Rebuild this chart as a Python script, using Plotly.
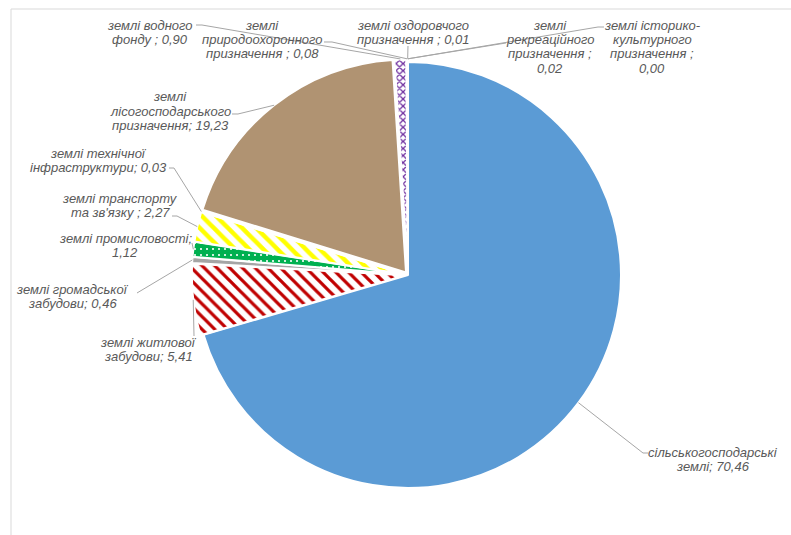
import numpy as np
import plotly.graph_objects as go

# ---------------- data ----------------
categories = [
    "сільськогосподарські землі",
    "землі житлової забудови",
    "землі громадської забудови",
    "землі промисловості",
    "землі транспорту та зв'язку",
    "землі технічної інфраструктури",
    "землі лісогосподарського призначення",
    "землі водного фонду",
    "землі природоохоронного призначення",
    "землі оздоровчого призначення",
    "землі рекреаційного призначення",
    "землі історико-культурного призначення",
]
values = [70.46, 5.41, 0.46, 1.12, 2.27, 0.03, 19.23, 0.90, 0.08, 0.01, 0.02, 0.00]

# how each data label is broken into lines ({v} = value)
label_lines = [
    ["сільськогосподарські", "землі; {v}"],
    ["землі житлової", "забудови; {v}"],
    ["землі громадської", "забудови; {v}"],
    ["землі промисловості;", "{v}"],
    ["землі транспорту", "та зв'язку ; {v}"],
    ["землі технічної", "інфраструктури; {v}"],
    ["землі", "лісогосподарського", "призначення; {v}"],
    ["землі водного", "фонду ; {v}"],
    ["землі", "природоохоронного", "призначення ; {v}"],
    ["землі оздоровчого", "призначення ; {v}"],
    ["землі", "рекреаційного", "призначення ;", "{v}"],
    ["землі історико-", "культурного", "призначення ;", "{v}"],
]

# ---------------- layout / style ----------------
W, H = 791, 535
CX, CY, R = 408, 275, 213
pulls = [0] + [0.015] * 11
max_pull = max(pulls)

colors = ["#5b9bd5", "#ffffff", "#a5a5a5", "#00b050", "#ffffff", "#4472c4",
          "#b09372", "#ffffff", "#70ad47", "#7030a0", "#ed7d31", "#ffc000"]
pat_shape = ["", "\\", "", ".", "\\", "", "", "x", "", "", "", ""]
pat_fg = ["#5b9bd5", "#c00000", "#a5a5a5", "#ffffff", "#ffff00", "#4472c4",
          "#b09372", "#7030a0", "#70ad47", "#7030a0", "#ed7d31", "#ffc000"]
pat_bg = ["#5b9bd5", "#ffffff", "#a5a5a5", "#00b050", "#ffffff", "#4472c4",
          "#b09372", "#ffffff", "#70ad47", "#7030a0", "#ed7d31", "#ffc000"]

# label placement (pixels): center x, first-line center y, leader start points
label_pos = [
    (713, 452), (148, 342), (72, 289), (125, 238), (120, 198), (98, 153),
    (170, 97), (150, 25), (262, 25), (413, 25), (550, 25), (652, 25),
]
leader_start = [
    [(648, 453), (643, 453)],
    [(194, 336)],
    [(137, 293)],
    [(192, 243)],
    [(172, 216), (177, 216)],
    [(169, 168), (174, 168)],
    [(232, 114), (238, 114)],
    [(196, 25), (202, 25)],
    [(324, 42), (332, 42)],
    [(408, 46)],
    [(506, 43)],
    [(604, 27), (598, 27)],
]
LINE_H = 14.5


def px(x, y):
    return x / W, 1 - y / H


half = R * (1 + max_pull)
fig = go.Figure(go.Pie(
    labels=categories,
    values=values,
    sort=False,
    direction="clockwise",
    rotation=0,
    pull=pulls,
    textinfo="none",
    hoverinfo="label+value",
    marker=dict(
        colors=colors,
        line=dict(color="#ffffff", width=2),
        pattern=dict(shape=pat_shape, fgcolor=pat_fg, bgcolor=pat_bg,
                     size=[8, 9, 8, 6, 10, 8, 8, 5, 8, 8, 8, 8],
                     solidity=[0.3, 0.36, 0.3, 0.1, 0.45, 0.3, 0.3, 0.45, 0.3, 0.3, 0.3, 0.3],
                     fillmode="replace"),
    ),
    domain=dict(x=[(CX - half) / W, (CX + half) / W],
                y=[1 - (CY + half) / H, 1 - (CY - half) / H]),
    showlegend=False,
))

# anchors on slice edges computed from values
vals = np.array(values, dtype=float)
cum = np.cumsum(vals) / vals.sum() * 360.0
mid = np.radians(cum - vals / vals.sum() * 180.0)

shapes = []
annotations = []
for i, cat in enumerate(categories):
    rr = R * (1 + pulls[i])
    ax_ = CX + rr * np.sin(mid[i])
    ay_ = CY - rr * np.cos(mid[i])
    pts = leader_start[i] + [(ax_, ay_)]
    path = ""
    for j, (x, y) in enumerate(pts):
        u, v = px(x, y)
        path += ("M" if j == 0 else " L") + f" {u:.5f} {v:.5f}"
    shapes.append(dict(type="path", xref="paper", yref="paper", path=path,
                       line=dict(color="#a6a6a6", width=1)))
    vtxt = f"{values[i]:.2f}".replace(".", ",")
    lx, ly = label_pos[i]
    for k, line in enumerate(label_lines[i]):
        u, v = px(lx, ly + k * LINE_H)
        annotations.append(dict(
            x=u, y=v, xref="paper", yref="paper", showarrow=False,
            xanchor="center", yanchor="middle",
            text="<i>" + line.replace("{v}", vtxt) + "</i>",
            font=dict(family="Liberation Sans, Arial", size=13, color="#595959"),
        ))

# chart area border
shapes.append(dict(type="rect", xref="paper", yref="paper",
                   x0=11 / W, x1=1.05, y0=-0.05, y1=1 - 9 / H,
                   line=dict(color="#d9d9d9", width=1), layer="below"))

fig.update_layout(
    width=W, height=H,
    margin=dict(l=0, r=0, t=0, b=0),
    paper_bgcolor="#ffffff",
    plot_bgcolor="#ffffff",
    shapes=shapes,
    annotations=annotations,
)

fig.write_html("out.html")
